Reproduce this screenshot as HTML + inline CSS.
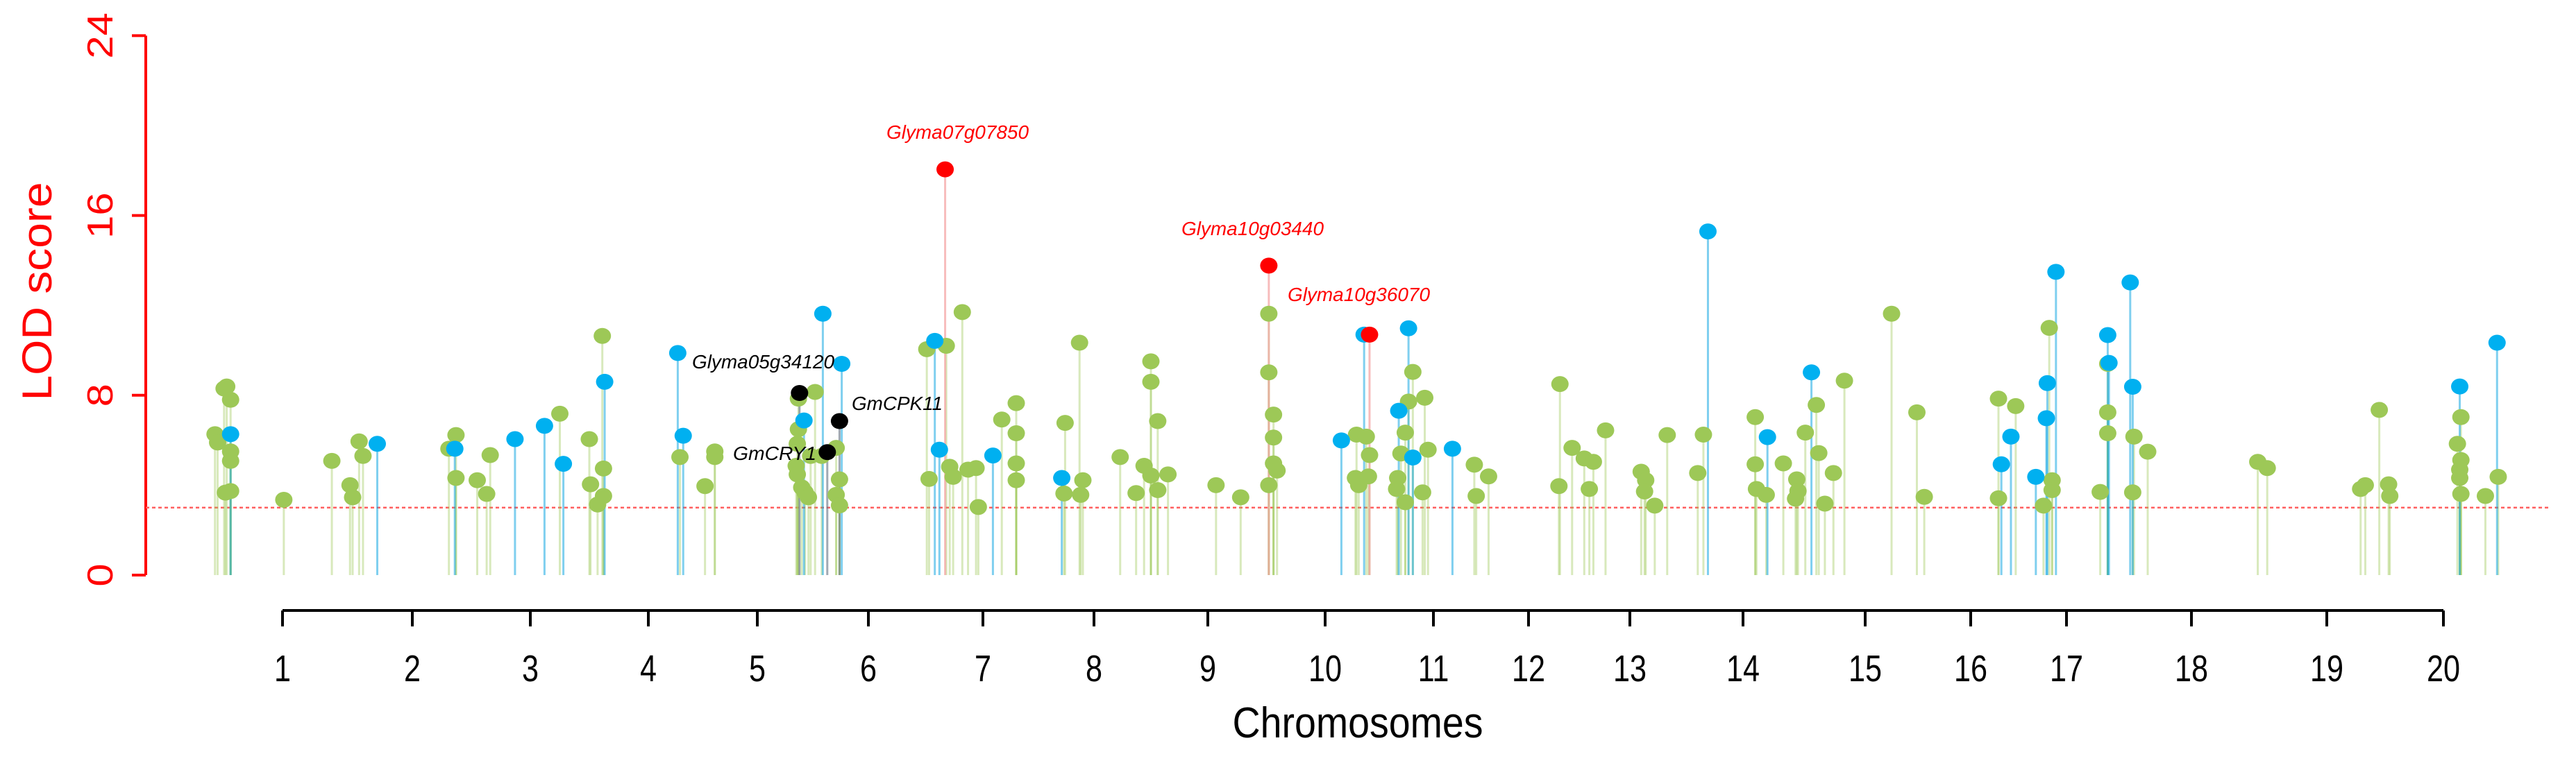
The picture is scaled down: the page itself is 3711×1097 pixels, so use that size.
<!DOCTYPE html>
<html><head><meta charset="utf-8"><style>
html,body{margin:0;padding:0;background:#fff;}
svg{display:block;}
</style></head><body>
<svg id="chart" width="3711" height="1097" viewBox="0 0 3711 1097" xmlns="http://www.w3.org/2000/svg" font-family="'Liberation Sans', sans-serif">
<g id="axes"></g>
<g id="stems"></g>
<g id="dots"></g>
<g id="labels"></g>
</svg>
<script>
// ---- data ----
const chromTicks = [1,2,3,4,5,6,7,8,9,10,11,12,13,14,15,16,17,18,19,20];
const yTicks = [0,8,16,24];
const threshold = 3;
// green markers: chromosome position, LOD
const greenPos = [0.48,0.50,0.57,0.55,0.60,0.60,0.60,0.60,0.56,1.01,1.38,1.52,1.54,1.59,1.62,2.31,2.37,2.37,2.55,2.63,2.66,3.25,3.50,3.51,3.61,3.62,3.62,3.57,4.29,4.52,4.61,4.61,5.37,5.52,5.37,5.36,5.35,5.36,5.40,5.43,5.46,5.48,5.58,5.71,5.74,5.71,5.74,6.51,6.68,6.82,6.53,6.71,6.74,6.87,6.94,6.96,7.17,7.30,7.30,7.30,7.30,7.74,7.73,7.87,7.90,7.88,8.23,8.37,8.44,8.50,8.50,8.56,8.50,8.56,8.65,9.07,9.28,9.52,9.52,9.56,9.56,9.56,9.59,9.52,10.29,10.38,10.41,10.28,10.31,10.40,10.81,10.77,10.74,10.70,10.92,10.95,10.67,10.66,10.74,10.90,11.43,11.45,11.58,12.31,12.30,12.43,12.55,12.60,12.64,12.76,13.10,13.14,13.13,13.22,13.33,13.60,13.65,14.10,14.10,14.11,14.19,14.33,14.44,14.45,14.43,14.51,14.60,14.62,14.67,14.74,14.83,15.25,15.49,15.56,16.29,16.29,16.47,16.76,16.82,16.85,16.85,17.27,17.33,17.33,17.33,17.54,17.53,17.65,18.49,18.56,19.29,19.33,19.45,19.53,19.54,20.12,20.15,20.14,20.15,20.14,20.15,20.36,20.47];
const greenLod = [6.27,5.90,8.39,8.30,7.80,5.50,5.08,3.74,3.67,3.35,5.08,4.00,3.46,5.95,5.30,5.62,6.23,4.32,4.22,3.61,5.34,7.18,6.05,4.04,10.64,4.74,3.52,3.14,5.25,3.96,5.50,5.25,7.85,8.15,6.49,5.84,4.86,4.48,3.90,3.68,3.46,5.30,5.30,5.66,4.26,3.57,3.10,10.05,10.20,11.70,4.28,4.82,4.37,4.69,4.76,3.03,6.92,7.65,6.31,4.97,4.22,6.77,3.63,10.34,4.22,3.57,5.25,3.65,4.86,9.51,8.60,6.85,4.43,3.78,4.48,4.00,3.46,11.63,9.02,7.14,6.12,4.97,4.65,4.00,6.25,6.16,5.34,4.32,4.00,4.39,9.04,7.72,6.34,5.41,7.89,5.58,4.32,3.83,3.24,3.68,4.91,3.52,4.39,8.50,3.96,5.66,5.19,3.83,5.04,6.44,4.60,4.22,3.72,3.09,6.23,4.54,6.25,7.03,4.93,3.83,3.57,4.97,4.26,3.74,3.40,6.34,7.57,5.43,3.18,4.54,8.65,11.63,7.24,3.48,7.85,3.42,7.52,3.09,11.00,4.22,3.78,3.70,9.40,7.24,6.31,6.16,3.68,5.49,5.04,4.76,3.83,4.00,7.35,4.04,3.52,5.84,7.03,4.69,5.12,4.32,3.61,3.52,4.37];
// blue markers
const bluePos = [0.60,1.73,2.36,2.87,3.12,3.28,3.63,4.27,4.32,5.42,5.59,5.76,6.58,6.62,7.09,7.71,10.15,10.36,10.77,10.68,10.81,11.20,13.69,14.20,14.56,16.32,16.42,16.68,16.79,16.80,16.89,17.33,17.34,17.51,17.53,20.14,20.46];
const blueLod = [6.27,5.84,5.62,6.05,6.64,4.95,8.60,9.88,6.20,6.88,11.63,9.40,10.42,5.58,5.32,4.32,5.99,10.70,10.98,7.31,5.23,5.62,15.29,6.14,9.02,4.93,6.16,4.37,6.98,8.54,13.49,10.68,9.44,13.02,8.38,8.39,10.34];
// highlighted candidate genes (red)
const redGenes = ["Glyma07g07850","Glyma10g03440","Glyma10g36070"];
const redPos = [6.67,9.52,10.41];
const redLod = [18.05,13.77,10.70];
// black candidate genes
const blackGenes = ["Glyma05g34120","GmCPK11","GmCRY1"];
const blackPos = [5.38,5.74,5.63];
const blackLod = [8.10,6.85,5.47];

// ---- layout ----
const tickPx = [407,594,764,934,1091,1251,1416,1576,1740,1909,2065,2202,2348,2511,2687,2839,2977,3157,3352,3520];
const Y0 = 829, YU = 32.4, AX = 210;
function xs(c){
  const n = tickPx.length;
  if (c <= 1) return tickPx[0] - (1 - c) * (tickPx[1] - tickPx[0]);
  if (c >= n) return tickPx[n-1] + (c - n) * (tickPx[n-1] - tickPx[n-2]);
  const i = Math.floor(c) - 1, f = c - Math.floor(c);
  return tickPx[i] + f * (tickPx[i+1] - tickPx[i]);
}
function ys(v){ return Y0 - v * YU; }
const NS = "http://www.w3.org/2000/svg";
function mk(tag, attrs, parent){
  const e = document.createElementNS(NS, tag);
  for (const k in attrs) e.setAttribute(k, attrs[k]);
  parent.appendChild(e); return e;
}
const axes = document.getElementById('axes');
const stems = document.getElementById('stems');
const dots = document.getElementById('dots');
const labels = document.getElementById('labels');

// y axis
let yl = mk('line',{x1:AX,y1:ys(24),x2:AX,y2:ys(0),stroke:'#ff0000','stroke-width':4},axes);


yTicks.forEach(v=>{
  const t = mk('line',{x1:190,y1:ys(v),x2:AX,y2:ys(v),stroke:'#ff0000','stroke-width':4},axes);
  
  
  const tx = mk('text',{x:0,y:0,'font-size':52,fill:'#ff0000','text-anchor':'middle',transform:`translate(162,${ys(v)}) rotate(-90) scale(1.15,1)`},axes);
  tx.textContent = v;
  
  
});
const yt = mk('text',{x:0,y:0,'font-size':60,fill:'#ff0000','text-anchor':'middle',textLength:315,lengthAdjust:'spacingAndGlyphs',transform:'translate(74,420) rotate(-90)'},axes);
yt.textContent = 'LOD score';



// x axis
const xl = mk('line',{x1:tickPx[0],y1:880,x2:tickPx[tickPx.length-1],y2:880,stroke:'#000','stroke-width':4},axes);


chromTicks.forEach(c=>{
  const t = mk('line',{x1:xs(c),y1:880,x2:xs(c),y2:903,stroke:'#000','stroke-width':4},axes);
  
  
  const tx = mk('text',{x:0,y:0,'font-size':54,fill:'#000','text-anchor':'middle',transform:`translate(${xs(c)},982) scale(0.8,1)`},axes);
  tx.textContent = c;
  
  
});
const xt = mk('text',{x:1956,y:1063,'font-size':62,fill:'#000','text-anchor':'middle',textLength:361,lengthAdjust:'spacingAndGlyphs'},axes);
xt.textContent = 'Chromosomes';



// threshold
const th = mk('line',{x1:AX,y1:ys(threshold),x2:xs(20.9),y2:ys(threshold),stroke:'#ff6060','stroke-width':2.5,'stroke-dasharray':'5,4'},axes);



function series(pos, lod, fill, stemCol, stemOp, name){
  pos.forEach((p,i)=>{
    const s = mk('line',{x1:xs(p),y1:ys(lod[i]),x2:xs(p),y2:ys(0),stroke:stemCol,'stroke-width':3,'stroke-opacity':stemOp},stems);
    
    
    const d = mk('ellipse',{cx:xs(p),cy:ys(lod[i]),rx:12.5,ry:11.5,fill:fill},dots);
    
    
  });
}
series(greenPos, greenLod, '#9dc857', '#9dc857', 0.4, 'green');
series(bluePos, blueLod, '#00b0f0', '#00a0e0', 0.5, 'blue');
series(blackPos, blackLod, '#000000', '#607080', 0.6, 'candidate');
series(redPos, redLod, '#ff0000', '#f4a0a0', 0.7, 'highlight');

// gene labels
const redLabelX = [1277,1702,1855], redLabelY = [200,339,434];
redGenes.forEach((g,i)=>{
  const t = mk('text',{x:redLabelX[i],y:redLabelY[i],'font-size':28,'font-style':'italic',fill:'#ff0000',textLength:205,lengthAdjust:'spacingAndGlyphs'},labels);
  t.textContent = g;
  
  
});
const blackLabelX = [997,1227,1056], blackLabelY = [531,591,663], blackLabelW = [205,131,120];
blackGenes.forEach((g,i)=>{
  const t = mk('text',{x:blackLabelX[i],y:blackLabelY[i],'font-size':28,'font-style':'italic',fill:'#000',textLength:blackLabelW[i],lengthAdjust:'spacingAndGlyphs'},labels);
  t.textContent = g;
  
  
});
</script>
</body></html>
